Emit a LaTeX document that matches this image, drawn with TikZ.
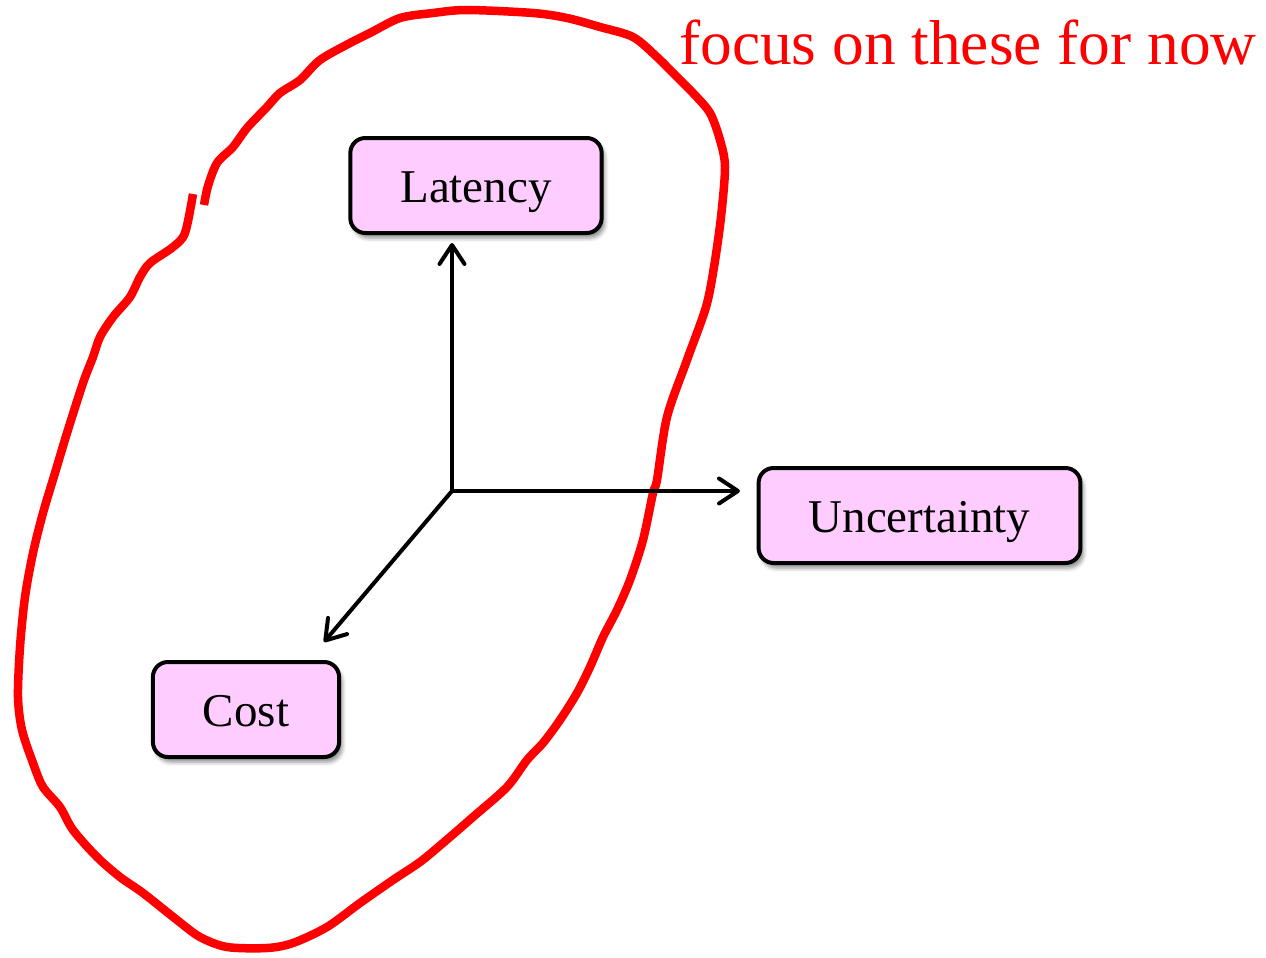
\documentclass[tikz,border=0pt]{standalone}
\usepackage{fontspec}
\setmainfont{Liberation Serif}
\usetikzlibrary{arrows.meta,shadows.blur}

\definecolor{boxpink}{RGB}{255,204,255}

\tikzset{
  dimbox/.style={draw=black, line width=4pt, fill=boxpink, rounded corners=15pt,
    minimum height=95pt, inner xsep=50pt, inner ysep=2pt,
    text height=35pt, text depth=2pt,
    font=\fontsize{47}{50}\selectfont,
    blur shadow={shadow xshift=3pt, shadow yshift=-5pt, shadow blur radius=4pt, shadow opacity=45}},
  axis/.style={line width=4pt, line join=round,
    -{Straight Barb[length=19pt, width=25pt, line width=4pt, round]}},
  scribble/.style={draw=red, line width=8.5pt, line join=round},
}

\begin{document}
\begin{tikzpicture}[x=1pt, y=-1pt]
  \useasboundingbox (0,0) rectangle (1266,958);

  % hand-drawn loop around the two dimensions of interest
  \draw[scribble] plot[smooth, tension=0.5] coordinates {
    (204,205) (208,186) (217,163) (233,147) (247,128) (267,107) (280,93)
    (300,80) (320,60) (350,43) (370,33) (400,18) (433,13) (467,10) (533,13)
    (567,18) (600,27) (633,37) (657,57) (677,77) (693,93) (710,113) (720,140)
    (725,167) (721,217) (714,267) (706,307) (687,360) (667,417) (657,480)
    (653,493) (643,540) (630,580) (617,610) (603,637) (590,667) (577,693)
    (560,720) (543,743) (527,760) (507,787) (473,817) (443,843) (420,862)
    (393,880) (360,903) (327,927) (293,943) (267,948) (227,947) (200,937)
    (177,920) (143,893) (120,877) (97,857) (73,830) (60,807) (43,787)
    (33,763) (22,730) (18,697) (20,647) (25,597) (33,553) (43,513) (55,473)
    (67,433) (83,383) (93,357) (100,337) (113,317) (130,297) (140,277)
    (150,263) (173,247) (185,233) (193,194)};

  \node[text=red, anchor=base west, inner sep=0pt,
        font=\fontsize{63.4}{66}\selectfont] (note) at (679,65) {focus on these for now};

  % the three dimensions
  \node[dimbox] (lat) at (476,185.5) {Latency};
  \node[dimbox] (unc) at (919.5,515.5) {Uncertainty};
  \node[dimbox] (cost) at (246,709.5) {Cost};

  \coordinate (o) at (452,491);
  \coordinate (latTip) at (452,243);
  \coordinate (uncTip) at (740,491);
  \coordinate (costTip) at (324,642);

  \draw[axis] (o) -- (latTip);
  \draw[axis] (o) -- (uncTip);
  \draw[axis] (o) -- (costTip);
\end{tikzpicture}
\end{document}
